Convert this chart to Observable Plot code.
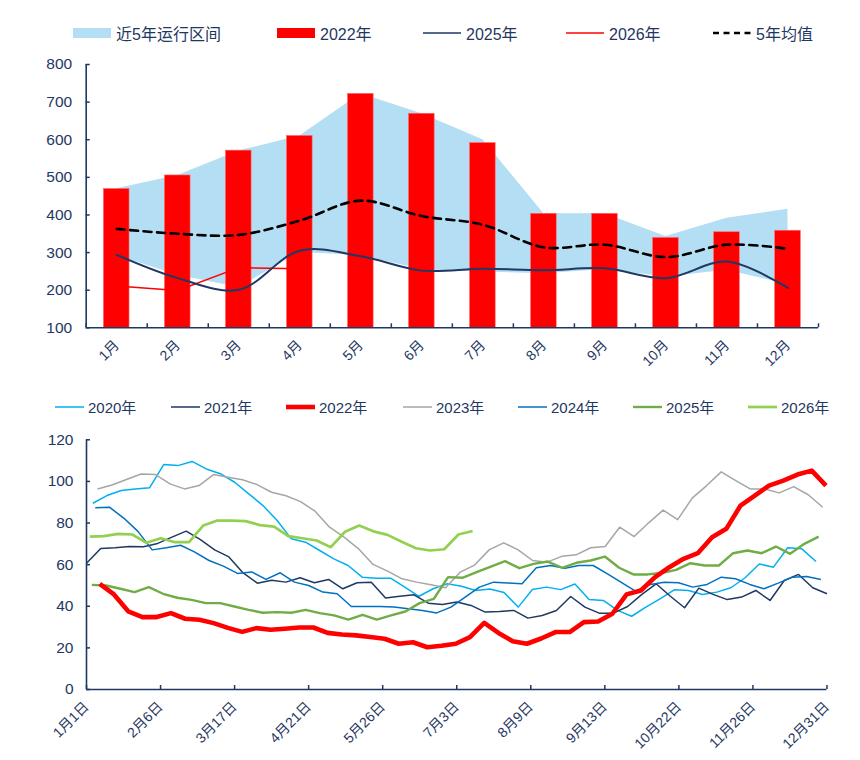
<!DOCTYPE html>
<html><head><meta charset="utf-8">
<script src="https://cdn.jsdelivr.net/npm/d3@7"></script>
<script src="https://cdn.jsdelivr.net/npm/@observablehq/plot@0.6"></script>
<style>
body{margin:0;background:#fff;}
#wrap{position:relative;width:860px;height:760px;overflow:hidden;}
#wrap svg.plot{position:absolute;left:0;}
.item{position:absolute;display:flex;align-items:center;white-space:nowrap;}
.item svg{display:block;}
</style>
</head><body>
<div id="wrap"></div>
<script>
// ---------- top chart data ----------
const months = ["1月","2月","3月","4月","5月","6月","7月","8月","9月","10月","11月","12月"];
const range5Low  = [292, 240, 207, 300, 292, 255, 248, 244, 255, 235, 253, 215];
const range5High = [470, 505, 570, 610, 722, 669, 600, 403, 403, 343, 391, 415];
const bars2022   = [469, 505, 571, 610, 722, 669, 591, 403, 403, 339, 354, 358];
const line2025   = [294, 232, 201, 305, 290, 252, 257, 253, 258, 232, 276, 206];
const line2026   = [211, 199, 260, 257];
const avg5       = [363, 350, 347, 385, 438, 397, 374, 314, 321, 288, 321, 310];
const yTicksTop  = [100, 200, 300, 400, 500, 600, 700, 800];

// ---------- bottom chart data ----------
const weekLabels = ["1月1日","2月6日","3月17日","4月21日","5月26日","7月3日","8月9日","9月13日","10月22日","11月26日","12月31日"];
const yTicksBottom = [0, 20, 40, 60, 80, 100, 120];
const s2020 = [89.5,93.2,95.6,96.4,96.9,108.1,107.6,109.6,106,103.7,99.6,94,88.4,81.2,72.4,70.8,66.8,62.8,59.6,54,53.5,53.5,49.2,44.8,48.4,50.8,49.6,47.6,48.3,46.6,39.6,48.1,49.2,48,50.7,43.2,42.8,38,35.2,39.6,43.6,47.9,47.6,45.7,46.8,48.9,53.7,60.3,58.8,68.1,67.6,61.5];
const s2021 = [60.7,67.8,68.1,68.7,68.6,70.2,73.2,76.1,72,67.1,63.7,56,51.1,52.5,51.6,53.7,51.3,52.9,48.4,51.3,51.6,44,44.8,45.5,41.5,40.8,42,40.4,37.2,37.5,38,34.3,35.6,38,44.7,39.6,36.7,36.7,39.9,45.7,50.8,44.8,39.3,48.7,45.7,43.2,44.4,47.6,42.8,52.4,55.3,48.9,46];
const s2022 = [50.8,45.7,37.6,34.8,34.8,36.7,34,33.5,31.9,29.6,27.7,29.5,28.7,29.2,29.8,29.8,27.2,26.4,26,25.2,24.4,22,22.7,20.3,21,22,25.2,32,27.2,23.2,22,24.5,27.6,27.6,32.4,32.7,36.4,45.7,47.6,54,58.8,62.8,65.5,73.2,77.2,88.4,93.2,98,100.4,103.3,105.2,98];
const s2023 = [96.4,98.3,100.9,103.6,103.3,98.8,96.4,98,103.3,102,100.8,98.5,94.8,93.1,90.3,85.7,78,73.2,67.6,60.1,56.9,53.2,51.6,50.3,48.9,56.4,59.8,67.1,70.5,67.1,62,61.2,64,64.7,68.1,68.7,78,73.5,80.1,86.2,81.6,92,98,104.6,100.4,96.4,96.4,94.5,97.5,93.6,87.6];
const s2024 = [87.3,87.6,82.4,76,67.1,68.1,69.3,66,62,59.3,55.8,56.5,52.9,56.1,51.6,50,46.8,46,39.9,39.9,39.9,39.6,38.8,38,36.8,39.6,44.4,49.2,51.6,51.2,50.8,58.5,59.6,58.3,59.6,59.6,55.6,51.4,47.2,50.5,51.5,51.3,49.2,50.5,54,53.2,50.5,48.4,51.1,54,54.3,52.9];
const s2025 = [50.3,50,48.4,46.8,49.2,46,44.1,43.1,41.5,41.5,39.9,38.3,36.9,37.2,36.9,38.3,36.7,35.6,33.6,35.9,33.6,35.6,37.5,41.5,43.6,54,53.7,56.4,59,61.7,58.3,60.4,61.5,58.5,60.9,62,63.9,58.5,55.3,55.3,56,57.5,60.7,59.6,59.6,65.5,66.8,65.5,68.7,65.2,70,73.5];
const s2026 = [73.5,73.7,74.8,74.5,70.5,72.7,70.8,70.8,78.8,81.2,81.2,80.9,79,78.3,73.7,72.7,71.6,68.4,75.8,78.8,76,74.3,71,67.9,66.8,67.4,74.5,76.2];
// first / last day-of-year of each weekly series
const firstDay = [3.1, 0, 6.5, 5.4, 4.3, 2.6, 1.6];
const lastDay  = [358.6, 364, 363.5, 361.9, 361.0, 359.9, 189.8];
const seriesNames = ["2020年","2021年","2022年","2023年","2024年","2025年","2026年"];

// ---------- styling ----------
const NAVY = "#1f3763";
const FONT = '"Liberation Sans Narrow","Arial Narrow","Liberation Sans","Noto Sans CJK SC",sans-serif';
const seriesColors = ["#00b0f0", "#1f3864", "#ff0000", "#a6a6a6", "#0070c0", "#70ad47", "#92d050"];
const seriesWidths = [1.5, 1.5, 4.6, 1.5, 1.5, 2.4, 2.7];
const drawOrder = [0, 1, 3, 4, 5, 6, 2];

const wrap = document.getElementById("wrap");

// ---------- top chart ----------
const topRows = months.map((m, i) => ({m: i + 1, lo: range5Low[i], hi: range5High[i], v22: bars2022[i], v25: line2025[i], avg: avg5[i]}));
const rows26 = line2026.map((v, i) => ({m: i + 1, v}));
const monthBounds = d3.range(0.5, months.length + 1, 1);
const H1 = 380, mt1 = 64, mb1 = 52.7, ml1 = 85.7, mr1 = 42;

const p1 = Plot.plot({
  width: 860, height: H1, marginTop: mt1, marginBottom: mb1, marginLeft: ml1, marginRight: mr1,
  x: {domain: [0.5, months.length + 0.5], label: null},
  y: {domain: [100, 800], label: null},
  style: {background: "transparent", color: NAVY, fontFamily: FONT, fontSize: "15px", overflow: "visible"},
  marks: [
    Plot.areaY(topRows, {x: "m", y1: "lo", y2: "hi", fill: "#b4def3"}),
    Plot.rectY(topRows, {x1: d => d.m - 0.21, x2: d => d.m + 0.21, y1: 100, y2: "v22", fill: "#ff0000", stroke: "#ff6b6b", strokeWidth: 0.6}),
    Plot.line(rows26, {x: "m", y: "v", stroke: "#ff0000", strokeWidth: 1.5}),
    Plot.line(topRows, {x: "m", y: "v25", stroke: "#1f3864", strokeWidth: 2, curve: "catmull-rom"}),
    Plot.line(topRows, {x: "m", y: "avg", stroke: "#000", strokeWidth: 2.6, strokeDasharray: "8,5.5", curve: "catmull-rom"}),
    Plot.ruleY([100], {stroke: NAVY, strokeWidth: 1.6}),
    Plot.ruleX([0.5], {stroke: NAVY, strokeWidth: 1.6}),
    Plot.tickX(monthBounds, {x: d => d, stroke: NAVY, strokeWidth: 1.5, insetTop: (H1 - mt1 - mb1) - 4}),
    Plot.tickY(yTicksTop, {y: d => d, stroke: NAVY, strokeWidth: 1.5, insetRight: (860 - ml1 - mr1) - 4}),
    Plot.axisY({ticks: yTicksTop, tickSize: 0, tickPadding: 14, label: null, fontSize: 15.5}),
    Plot.axisX({ticks: topRows.map(d => d.m), tickFormat: d => months[d - 1], tickSize: 0, tickPadding: 15, tickRotate: -45, label: null, fontSize: 14})
  ]
});
p1.classList.add("plot");
p1.style.top = "0px";
wrap.appendChild(p1);

// ---------- bottom chart ----------
const pts = seriesNames.map((name, k) => {
  const vals = [s2020, s2021, s2022, s2023, s2024, s2025, s2026][k];
  const step = (lastDay[k] - firstDay[k]) / (vals.length - 1);
  return vals.map((v, i) => ({name, day: firstDay[k] + i * step, v}));
});
const tickDays = weekLabels.map((_, i) => i * 364 / (weekLabels.length - 1));
const H2 = 380, mt2 = 59.3, mb2 = 71, ml2 = 86, mr2 = 33.5;

const p2 = Plot.plot({
  width: 860, height: H2, marginTop: mt2, marginBottom: mb2, marginLeft: ml2, marginRight: mr2,
  x: {domain: [0, 364], label: null},
  y: {domain: [0, 120], label: null},
  style: {background: "transparent", color: NAVY, fontFamily: FONT, fontSize: "15px", overflow: "visible"},
  marks: [
    ...drawOrder.map(k => Plot.line(pts[k], {x: "day", y: "v", stroke: seriesColors[k], strokeWidth: seriesWidths[k], strokeLinejoin: "round", strokeLinecap: "butt"})),
    Plot.ruleY([0], {stroke: NAVY, strokeWidth: 1.6}),
    Plot.ruleX([0], {stroke: NAVY, strokeWidth: 1.6}),
    Plot.tickX(tickDays, {x: d => d, stroke: NAVY, strokeWidth: 1.5, insetTop: (H2 - mt2 - mb2) - 4}),
    Plot.tickY(yTicksBottom, {y: d => d, stroke: NAVY, strokeWidth: 1.5, insetRight: (860 - ml2 - mr2) - 4}),
    Plot.axisY({ticks: yTicksBottom, tickSize: 0, tickPadding: 13, label: null, fontSize: 15.5}),
    Plot.axisX({ticks: tickDays, tickFormat: d => weekLabels[Math.round(d / (364 / (weekLabels.length - 1)))], tickSize: 0, tickPadding: 15, tickRotate: -45, label: null, fontSize: 14})
  ]
});
p2.classList.add("plot");
p2.style.top = "380px";
wrap.appendChild(p2);

// ---------- legends ----------
function legend(items, lefts, top, swW, swGap, fontSize) {
  items.forEach((it, k) => {
    const item = document.createElement("div");
    item.className = "item";
    item.style.cssText = `left:${lefts[k]}px;top:${top}px;gap:${swGap}px;font-family:${FONT};font-size:${fontSize}px;color:${NAVY};`;
    const sw = d3.create("svg").attr("width", swW).attr("height", 14);
    if (it.type === "rect") sw.append("rect").attr("x", 0).attr("y", 2).attr("width", swW).attr("height", 10).attr("fill", it.color);
    else sw.append("line").attr("x1", 0).attr("x2", swW).attr("y1", 7).attr("y2", 7).attr("stroke", it.color).attr("stroke-width", it.width).attr("stroke-dasharray", it.dash || null);
    item.appendChild(sw.node());
    const t = document.createElement("span");
    t.textContent = it.label;
    item.appendChild(t);
    wrap.appendChild(item);
  });
}
legend([
  {label: "近5年运行区间", type: "rect", color: "#b4def3"},
  {label: "2022年", type: "rect", color: "#ff0000"},
  {label: "2025年", type: "line", color: "#1f3864", width: 1.6},
  {label: "2026年", type: "line", color: "#ff0000", width: 1.3},
  {label: "5年均值", type: "line", color: "#000", width: 2.6, dash: "6,4.5"}
], [73, 277, 423, 566, 713], 21, 38, 5, 16);
legend(seriesNames.map((name, k) => ({label: name, type: "line", color: seriesColors[k], width: seriesWidths[k]})),
  [55, 171, 286, 403, 518, 633, 748], 396, 29, 4, 15);
</script>
</body></html>
